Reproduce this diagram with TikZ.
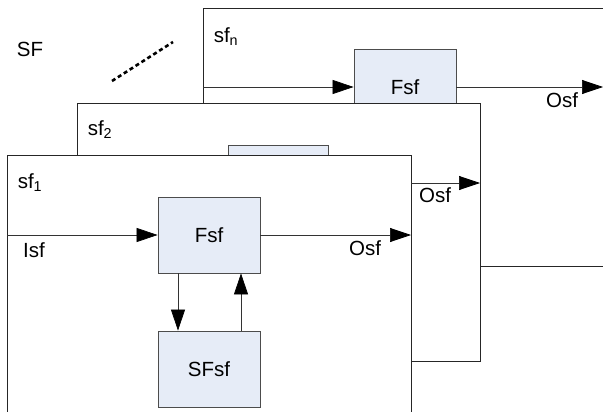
\documentclass[tikz,border=0pt]{standalone}
\usepackage{fontspec}
\setmainfont{Liberation Sans}
\usetikzlibrary{arrows.meta, positioning}
\definecolor{boxfill}{RGB}{230,236,247}
\tikzset{
	lbl/.style={inner sep=0pt, font=\fontsize{20.5}{24}\selectfont},
	frm/.style={draw=black!85, fill=white, line width=0.8pt},
	blk/.style={draw=black!70, fill=boxfill, line width=0.8pt, inner sep=0pt,
		minimum width=102pt, minimum height=76pt, font=\fontsize{20.5}{24}\selectfont},
	flow/.style={-{Triangle[length=21pt, width=14pt, black]}, line width=0.7pt, draw=black!80}
}
\begin{document}
\begin{tikzpicture}[x=1pt, y=-1pt]
		\useasboundingbox (0,0) rectangle (603,412);
		\clip (0,0) rectangle (603,412);
		% sf_n
		\draw[frm] (203,8) rectangle (640,266);
		\draw (405,87) node[blk] (fn) {Fsf}
		(226,37) node[lbl] (sfn) {sf\textsubscript{n}}
		(562,100) node[lbl] (on) {Osf};
		\coordinate (in) at (203,87);
		\coordinate (outn) at (603,87);
		\draw[flow] (in) -- (fn);
		\draw[flow] (fn) -- (outn);
		% sf_2
		\draw[frm] (77,103) rectangle (480,361);
		\draw (278,183) node[blk, minimum width=100pt] (f2) {}
		(100,130) node[lbl] (sf2) {sf\textsubscript{2}}
		(435,195) node[lbl] (o2) {Osf};
		% sf_1
		\draw[frm] (7,155) rectangle (411,430);
		\draw (209,235) node[blk] (f1) {Fsf}
		(209,369) node[blk] (sfsf1) {SFsf}
		(30,183) node[lbl] (sf1) {sf\textsubscript{1}}
		(34,250) node[lbl] (i1) {Isf}
		(365,248) node[lbl] (o1) {Osf};
		\coordinate (in1) at (7,235);
		\coordinate (out1) at (411,235);
		\coordinate (from1) at (411,183);
		\coordinate (out2) at (480,183);
		\draw[flow] (in1) -- (f1);
		\draw[flow] (f1) -- (out1);
		\draw[flow] (from1) -- (out2);
		\draw[flow] ([xshift=-31pt]f1.south) -- ([xshift=-31pt]sfsf1.north);
		\draw[flow] ([xshift=32pt]sfsf1.north) -- ([xshift=32pt]f1.south);
		% SF and the stack
		\draw (30,49) node[lbl] (sf) {SF};
		\coordinate (d1) at (112,81);
		\coordinate (d2) at (173,42);
		\draw[line width=2.6pt, dash pattern=on 4pt off 3pt] (d1) -- (d2);
	\end{tikzpicture}
\end{document}
